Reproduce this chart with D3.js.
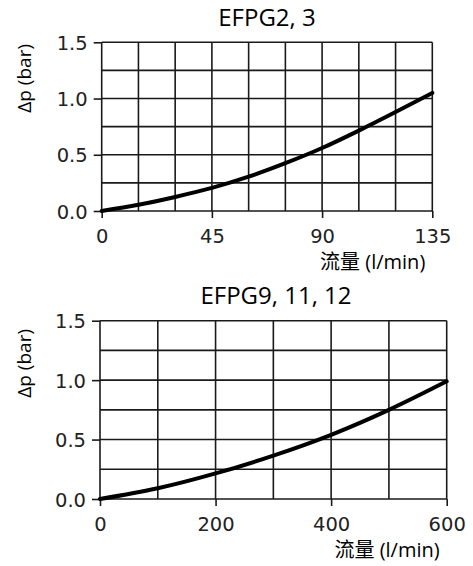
<!DOCTYPE html>
<html>
<head>
<meta charset="utf-8">
<script src="https://cdn.jsdelivr.net/npm/d3@7/dist/d3.min.js"></script>
<style>
  html, body { margin: 0; padding: 0; background: #fff; }
  svg { display: block; }
</style>
</head>
<body>
<svg id="chart" width="473" height="566"></svg>
<script>
// ---- data ----
const titles = ["EFPG2, 3", "EFPG9, 11, 12"];
const flowTop = [0, 15, 30, 45, 60, 75, 90, 105, 120, 135];
const dpTop = [0, 0.055, 0.125, 0.205, 0.305, 0.425, 0.56, 0.715, 0.88, 1.05];
const flowBottom = [0, 100, 200, 300, 400, 500, 600];
const dpBottom = [0, 0.09, 0.215, 0.365, 0.54, 0.75, 0.99];
const xTicksTop = [0, 45, 90, 135];
const xGridTop = [0, 15, 30, 45, 60, 75, 90, 105, 120, 135];
const xTicksBottom = [0, 200, 400, 600];
const xGridBottom = [0, 100, 200, 300, 400, 500, 600];
const yTicks = [0, 0.5, 1.0, 1.5];
const yGrid = [0, 0.25, 0.5, 0.75, 1.0, 1.25, 1.5];
const yLabel = "Δp (bar)";
const xLabel = "流量 (l/min)";

// ---- layout ----
const panels = [
  { title: titles[0], flow: flowTop, dp: dpTop, xMax: 135, xTicks: xTicksTop, xGrid: xGridTop,
    left: 101.7, right: 432.3, top: 42.3, bottom: 211, yLabelEnd: 44, titleX: 267 },
  { title: titles[1], flow: flowBottom, dp: dpBottom, xMax: 600, xTicks: xTicksBottom, xGrid: xGridBottom,
    left: 100, right: 446.7, top: 320.7, bottom: 499, yLabelEnd: 329, titleX: 276 }
];

const svg = d3.select("#chart");
const ink = "#1a1a1a";

panels.forEach(p => {
  const x = d3.scaleLinear().domain([0, p.xMax]).range([p.left, p.right]);
  const y = d3.scaleLinear().domain([0, 1.5]).range([p.bottom, p.top]);
  const g = svg.append("g");

  // grid
  g.append("g").selectAll("line").data(p.xGrid).join("line")
    .attr("x1", d => x(d)).attr("x2", d => x(d))
    .attr("y1", p.top).attr("y2", p.bottom)
    .attr("stroke", ink).attr("stroke-width", 1.6);
  g.append("g").selectAll("line").data(yGrid).join("line")
    .attr("x1", p.left).attr("x2", p.right)
    .attr("y1", d => y(d)).attr("y2", d => y(d))
    .attr("stroke", ink).attr("stroke-width", 1.6);

  // axes with ticks
  const yAxis = d3.axisLeft(y).tickValues(yTicks).tickFormat(d3.format(".1f"))
    .tickSize(8).tickPadding(6);
  const ya = g.append("g").attr("transform", `translate(${p.left},0)`).call(yAxis);
  ya.select(".domain").remove();
  ya.selectAll("line").attr("stroke", ink).attr("stroke-width", 1.6);
  ya.selectAll("text").attr("font-family", "DejaVu Sans").attr("font-size", 19.5)
    .attr("fill", "#222").attr("dy", "0.36em");

  const xAxis = d3.axisBottom(x).tickValues(p.xTicks).tickSize(7).tickPadding(11);
  const xa = g.append("g").attr("transform", `translate(0,${p.bottom})`).call(xAxis);
  xa.select(".domain").remove();
  xa.selectAll("line").attr("stroke", ink).attr("stroke-width", 1.6);
  xa.selectAll("text").attr("font-family", "DejaVu Sans").attr("font-size", 19.5)
    .attr("fill", "#222").attr("dy", "0.71em");

  // curve
  const pts = p.flow.map((f, i) => [f, p.dp[i]]);
  g.append("path").datum(pts)
    .attr("fill", "none").attr("stroke", "#000").attr("stroke-width", 4)
    .attr("stroke-linecap", "round")
    .attr("d", d3.line().x(d => x(d[0])).y(d => y(d[1])).curve(d3.curveMonotoneX));

  // title
  g.append("text").attr("x", p.titleX).attr("y", p.top - 16.5)
    .attr("text-anchor", "middle").attr("font-family", "Open Sans").attr("font-size", 24)
    .attr("fill", "#000").text(p.title);

  // y label
  g.append("text").attr("transform", `translate(31,${p.yLabelEnd}) rotate(-90)`)
    .attr("text-anchor", "end").attr("font-family", "Open Sans").attr("font-size", 19)
    .attr("fill", "#000").text(yLabel);

  // x label
  g.append("text").attr("x", p.right - 7).attr("y", p.bottom + 58)
    .attr("text-anchor", "end").attr("font-family", "Open Sans, Noto Sans CJK SC").attr("font-size", 20)
    .attr("fill", "#000").text(xLabel);
});
</script>
</body>
</html>
